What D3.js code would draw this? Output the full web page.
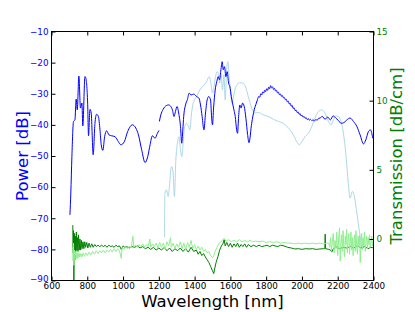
<!DOCTYPE html>
<html>
<head>
<meta charset="utf-8">
<script src="https://cdn.jsdelivr.net/npm/d3@7"></script>
<style>
  body { margin: 0; background: #fff; }
  svg { display: block; font-family: "DejaVu Sans", sans-serif; }
  .tick line { stroke: #000; }
</style>
</head>
<body>
<svg id="chart" width="415" height="312"></svg>
<script>
'use strict';

// Power spectrum (left axis), blue; null marks the break near 1200 nm
const blueWl = [703, 708, 714, 723, 731, 738, 744, 753, 762, 770, 775, 787, 792, 802, 807, 815, 822, 833, 843, 852,
  862, 871, 878, 887, 897, 908, 921, 936, 955, 974, 988, 1007, 1026, 1052, 1071, 1086, 1104, 1123, 1138, 1151,
  1164, 1179, 1192, 1201, 1202,
  1203, 1211, 1224, 1242, 1255, 1267, 1276, 1285, 1293, 1302, 1311, 1321, 1328, 1334, 1339, 1349, 1360, 1369, 1380,
  1395, 1411, 1424, 1433, 1442, 1452, 1461, 1470, 1479, 1489, 1496, 1500, 1506, 1515, 1524, 1532, 1539, 1547, 1554,
  1560, 1567, 1575, 1582, 1590, 1597, 1605, 1612, 1620, 1627, 1635, 1640, 1646, 1653, 1660, 1668, 1677, 1687, 1696,
  1704, 1719, 1733, 1745,
  1752, 1758, 1764, 1770, 1775, 1781, 1786, 1792, 1797, 1803, 1808, 1814, 1819, 1825, 1830, 1836, 1841, 1847, 1852,
  1858, 1863, 1869, 1874, 1880, 1885, 1891, 1896, 1902, 1907, 1913, 1918, 1924, 1929, 1935, 1940, 1946, 1951, 1957,
  1962, 1968, 1973, 1979, 1984, 1990, 1995, 2001, 2006, 2012, 2018, 2024, 2030, 2036, 2042, 2048, 2055, 2062, 2070,
  2078, 2085, 2093, 2101,
  2114, 2129, 2144, 2159, 2174, 2189, 2204, 2219, 2234, 2251, 2269, 2288, 2307, 2325, 2344, 2357, 2372, 2383, 2396];
const bluePow = [-68.9, -61.9, -50.2, -38.9, -38.4, -31.7, -35.2, -24.3, -34.6, -33.0, -40.3, -24.5, -25.0, -33.0,
  -43.5, -35.0, -36.2, -49.6, -39.5, -36.6, -37.3, -41.6, -46.4, -48.2, -43.8, -41.9, -43.2, -43.5, -43.8, -45.4,
  -46.4, -45.4, -42.1, -40.0, -41.0, -43.2, -48.0, -52.1, -50.2, -46.4, -43.5, -44.3, -42.7, -41.8, null,
  -38.9, -36.8, -35.0, -33.8, -33.6, -34.1, -35.2, -37.3, -35.7, -34.1, -36.2, -40.5, -45.9, -41.6, -37.3, -33.6,
  -31.8, -29.8, -30.4, -30.1, -30.9, -31.4, -33.6, -37.3, -41.6, -36.2, -32.0, -30.9, -32.0, -38.4, -40.0, -34.6,
  -28.8, -26.1, -24.5, -25.5, -22.3, -19.7, -22.3, -21.3, -24.5, -22.9, -26.6, -27.7, -30.9, -33.0, -35.2, -37.3,
  -41.6, -42.7, -37.3, -33.6, -34.6, -33.0, -34.0, -38.0, -43.0, -45.7, -39.5, -35.2, -33.0,
  -31.8, -30.9, -31.1, -30.0, -30.4, -29.4, -29.8, -28.9, -29.3, -28.4, -28.9, -27.9, -28.4, -27.4, -28.1, -27.8,
  -28.6, -28.3, -29.1, -28.9, -29.7, -29.5, -30.3, -30.1, -30.8, -30.6, -31.3, -31.2, -31.9, -31.8, -32.6, -32.4,
  -33.3, -33.1, -34.0, -33.8, -34.7, -34.6, -35.4, -35.3, -36.0, -35.9, -36.6, -36.4, -37.1, -36.9, -37.5, -37.3,
  -37.9, -37.7, -38.3, -38.0, -38.5, -38.2, -38.6, -38.4, -38.7, -38.3, -38.5, -37.9, -37.8,
  -37.3, -38.2, -37.5, -38.4, -37.1, -37.8, -38.6, -39.5, -39.3, -38.4, -37.8, -38.9, -40.5, -43.2, -46.1, -44.8,
  -42.1, -41.6, -44.3];

// Second power spectrum (left axis), light blue
const lightWl = [1232, 1234, 1243, 1252, 1261, 1267, 1272, 1280, 1287, 1295, 1304, 1313, 1321, 1328, 1336, 1343,
  1355, 1366, 1373, 1383, 1392, 1411, 1429, 1448, 1467, 1481, 1491, 1500, 1508, 1517, 1526, 1534, 1541, 1548, 1556,
  1564, 1571, 1579, 1586, 1594, 1601, 1608, 1616, 1625, 1638, 1653, 1672, 1685, 1700, 1719, 1737, 1756, 1784, 1812,
  1840, 1868, 1896, 1924, 1952, 1971, 1985, 1999, 2017, 2036, 2055, 2073, 2092, 2111, 2129, 2148, 2163, 2176, 2189,
  2204, 2219, 2232, 2245, 2256, 2269, 2282, 2293, 2307, 2320, 2331, 2337];
const lightPow = [-76.0, -62.0, -60.9, -63.0, -58.7, -54.4, -53.4, -55.5, -63.0, -51.4, -45.9, -43.8, -48.0, -50.2,
  -45.9, -41.0, -39.5, -40.5, -41.6, -36.2, -33.0, -30.9, -28.8, -27.5, -26.1, -24.5, -26.6, -29.8, -27.7, -24.5,
  -22.9, -23.9, -26.6, -23.4, -28.8, -23.9, -32.0, -22.3, -19.7, -25.5, -28.8, -33.0, -31.4, -28.8, -27.1, -26.4,
  -26.6, -27.8, -30.9, -34.6, -36.2, -36.0, -36.8, -37.3, -38.2, -38.9, -39.5, -41.0, -43.2, -45.4, -46.4, -45.4,
  -43.8, -42.7, -40.5, -37.8, -35.7, -35.2, -36.2, -38.9, -40.0, -38.4, -37.1, -37.3, -38.9, -42.7, -49.1, -56.6,
  -63.5, -61.4, -63.0, -68.3, -73.7, -78.0, -80.0];

// Transmission (right axis), dark green
const darkWl = [719, 721, 723, 725, 727, 729, 731, 733, 736, 739, 742, 745, 748, 751, 755, 759, 763, 767, 771, 776,
  781, 786, 791, 797, 803, 810, 817, 825, 833, 842, 850, 860, 870, 880, 890, 900, 910, 920, 930, 940, 950, 960, 970,
  980, 990, 1000, 1010, 1020, 1035, 1050, 1065, 1080, 1095, 1110, 1125, 1140, 1155, 1170, 1185, 1200, 1215, 1230,
  1245, 1260, 1275, 1290, 1305, 1320, 1335, 1350, 1365, 1380, 1395, 1410, 1420, 1430, 1440, 1450, 1460, 1470, 1480,
  1490, 1500, 1507, 1513, 1520, 1531, 1540, 1550, 1560, 1565, 1571, 1580, 1590, 1600, 1610, 1620, 1630, 1640, 1650,
  1660, 1670, 1680, 1690, 1700, 1715, 1730, 1745, 1760, 1775, 1790, 1805, 1820, 1835, 1850, 1865, 1880, 1900, 1920,
  1940, 1960, 1980, 2000, 2020, 2040, 2060, 2080, 2100, 2120, 2128, 2130, 2132, 2150, 2160, 2167, 2175, 2190, 2210,
  2230, 2250, 2270, 2290, 2310, 2330, 2350, 2370, 2385, 2400];
const darkT = [1.0, -1.0, 0.6, -3.0, -0.3, 0.4, -1.5, 0.2, -0.9, 0.5, -0.8, 0.1, -0.9, 0.3, -0.8, 0.0, -0.8, -0.1,
  -0.7, -0.2, -0.7, -0.2, -0.6, -0.25, -0.65, -0.3, -0.6, -0.35, -0.6, -0.4, -0.55, -0.45, -0.55, -0.45, -0.55,
  -0.45, -0.6, -0.45, -0.55, -0.5, -0.6, -0.45, -0.55, -0.5, -0.75, -0.5, -0.6, -0.55, -0.65, -0.55, -0.6, -0.5,
  -0.65, -0.55, -0.7, -0.6, -0.75, -0.6, -0.8, -0.65, -0.8, -0.6, -0.85, -0.65, -0.9, -0.7, -0.85, -0.65, -0.9,
  -0.7, -0.95, -0.6, -0.9, -0.8, -1.1, -0.9, -1.2, -1.05, -1.3, -1.5, -1.7, -2.0, -2.3, -2.5, -2.1, -1.7, -1.25,
  -0.8, -0.5, -0.3, -0.05, -0.5, -0.25, -0.55, -0.3, -0.6, -0.35, -0.55, -0.3, -0.6, -0.4, -0.55, -0.35, -0.6,
  -0.4, -0.55, -0.45, -0.55, -0.45, -0.55, -0.5, -0.45, -0.55, -0.45, -0.5, -0.55, -0.45, -0.5, -0.6, -0.65, -0.72,
  -0.7, -0.75, -0.7, -0.72, -0.7, -0.75, -0.72, -0.7, -0.7, 0.35, -0.7, -0.75, -0.8, -0.95, -0.7, -0.55, -0.7, -0.6,
  -0.65, -0.55, -0.65, -0.5, -0.65, -0.55, -0.7, -0.6, -0.65];

// Transmission (right axis), light green
const paleWl = [719, 721, 723, 725, 728, 731, 735, 739, 743, 748, 753, 758, 764, 770, 777, 784, 792, 800, 810, 820,
  830, 840, 850, 860, 870, 880, 890, 900, 910, 920, 930, 940, 950, 960, 970, 980, 990, 995, 1005, 1015, 1025, 1035,
  1045, 1055, 1060, 1070, 1080, 1090, 1100, 1110, 1120, 1130, 1140, 1150, 1155, 1165, 1175, 1185, 1195, 1205, 1215,
  1225, 1235, 1245, 1255, 1265, 1270, 1280, 1290, 1300, 1310, 1320, 1330, 1340, 1350, 1360, 1370, 1380, 1390, 1400,
  1410, 1420, 1430, 1440, 1450, 1460, 1470, 1480, 1490, 1500, 1507, 1515, 1525, 1535, 1545, 1555, 1565, 1575, 1590,
  1605, 1620, 1635, 1650, 1665, 1680, 1695, 1710, 1725, 1740, 1760, 1780, 1800, 1820, 1840, 1860, 1880, 1900, 1920,
  1940, 1960, 1980, 2000, 2020, 2040, 2060, 2080, 2100, 2120, 2140,
  2150, 2155, 2160, 2165, 2170, 2175, 2180, 2185, 2190, 2195, 2200, 2205, 2210, 2214, 2218, 2222, 2226, 2230, 2234,
  2238, 2242, 2246, 2250, 2254, 2258, 2262, 2266, 2270, 2274, 2278, 2282, 2286, 2290, 2294, 2298, 2302, 2306, 2310,
  2314, 2318, 2322, 2326, 2330, 2334, 2338, 2342, 2346, 2350, 2354, 2358, 2362, 2366, 2370, 2374, 2378, 2382, 2386,
  2390, 2395, 2400];
const paleT = [-0.6, -1.6, -0.3, -1.9, -0.8, -1.5, -0.9, -1.4, -1.0, -1.4, -1.0, -1.3, -1.05, -1.3, -1.0, -1.25,
  -1.0, -1.2, -0.95, -1.15, -0.9, -1.1, -0.85, -1.05, -0.85, -1.0, -0.8, -1.0, -0.8, -0.95, -0.75, -0.95, -0.7,
  -0.9, -0.7, -0.85, -1.4, -0.6, -0.75, -0.55, -0.7, -0.5, -0.65, 0.2, -0.55, -0.45, -0.6, -0.4, -0.55, -0.35, -0.6,
  -0.4, -0.55, 0.0, -0.6, -0.35, -0.55, -0.3, -0.65, -0.25, -0.6, -0.3, -0.75, -0.2, -0.5, 0.1, -0.6, -0.3, -0.7,
  -0.35, -0.6, -0.2, -0.7, -0.3, -0.8, -0.25, -0.6, -0.1, -0.7, -0.4, -0.75, -0.5, -0.8, -0.6, -0.9, -0.75, -1.0,
  -0.9, -1.2, -1.35, -1.2, -0.9, -0.6, -0.35, -0.2, -0.1, 0.05, -0.15, -0.05, -0.2, -0.1, -0.2, -0.05, -0.2, -0.1,
  -0.2, -0.1, -0.2, -0.15, -0.2, -0.15, -0.25, -0.2, -0.25, -0.2, -0.3, -0.25, -0.3, -0.3, -0.35, -0.3, -0.35, -0.3,
  -0.35, -0.3, -0.35, -0.3, -0.35, -0.3,
  -0.3, -0.6, 0.1, -0.9, -0.2, 0.4, -1.0, -0.1, -0.7, 0.5, -1.2, 0.0, 0.8, -1.6, -0.3, 0.3, -0.9, 0.6, -0.6, -1.3,
  0.2, -0.4, 0.7, -1.0, -0.2, 0.4, -1.1, -0.3, 0.5, -0.8, 0.1, -1.2, -0.4, 0.3, -0.9, 0.6, -0.5, -1.1, 0.2, -0.6,
  0.3, -1.7, -0.2, 0.4, -0.8, 0.1, -0.5, 0.5, -0.9, -0.2, 0.2, -0.7, 0.1, -0.4, 0.3, -0.6, -0.2, 0.2, -0.5, -0.3];

const xTicks = [600, 800, 1000, 1200, 1400, 1600, 1800, 2000, 2200, 2400];
const powerTicks = [-90, -80, -70, -60, -50, -40, -30, -20, -10];
const transTicks = [0, 5, 10, 15];

const BLUE = '#0000ff';
const GREEN = '#008000';

const width = 415;
const height = 312;
const margin = { top: 31.5, right: 41.5, bottom: 31.5, left: 51.5 };
const innerW = width - margin.left - margin.right;
const innerH = height - margin.top - margin.bottom;

const svg = d3.select('#chart');

const x = d3.scaleLinear().domain([600, 2400]).range([0, innerW]);
const yPow = d3.scaleLinear().domain([-90, -10]).range([innerH, 0]);
const yTrans = d3.scaleLinear().domain([-3, 15]).range([innerH, 0]);

svg.append('defs')
  .append('clipPath')
    .attr('id', 'plot-clip')
  .append('rect')
    .attr('width', innerW)
    .attr('height', innerH);

const g = svg.append('g')
  .attr('transform', `translate(${margin.left},${margin.top})`);

const plot = g.append('g').attr('clip-path', 'url(#plot-clip)');

const zip = (xs, ys) => xs.map((v, i) => [v, ys[i]]);

const addLine = (pts, yScale, color, curve) => {
  const line = d3.line()
    .defined(d => d[1] !== null)
    .x(d => x(d[0]))
    .y(d => yScale(d[1]))
    .curve(curve);
  plot.append('path')
    .datum(pts)
    .attr('d', line)
    .attr('fill', 'none')
    .attr('stroke', color)
    .attr('stroke-width', 1)
    .attr('stroke-linejoin', 'round');
};

addLine(zip(lightWl, lightPow), yPow, '#add8e6', d3.curveMonotoneX);
addLine(zip(blueWl, bluePow), yPow, BLUE, d3.curveMonotoneX);
addLine(zip(darkWl, darkT), yTrans, GREEN, d3.curveLinear);
addLine(zip(paleWl, paleT), yTrans, '#90ee90', d3.curveLinear);

// Axes: matplotlib-style inward ticks
const styleAxis = (sel, color) => {
  sel.select('.domain').remove();
  sel.selectAll('text')
    .attr('fill', color)
    .style('font-size', '8.8px')
    .style('font-family', '"DejaVu Sans", sans-serif');
};

g.append('g')
  .attr('transform', `translate(0,${innerH})`)
  .call(d3.axisBottom(x).tickValues(xTicks).tickSize(-4).tickPadding(2.5).tickFormat(d3.format('d')))
  .call(sel => styleAxis(sel, '#000'));

g.append('g')
  .call(d3.axisTop(x).tickValues(xTicks).tickSize(-4).tickFormat(''))
  .call(sel => styleAxis(sel, '#000'));

g.append('g')
  .call(d3.axisLeft(yPow).tickValues(powerTicks).tickSize(-4).tickPadding(3))
  .call(sel => styleAxis(sel, BLUE))
  .call(sel => sel.selectAll('.tick text')
    .filter(d => d === -90)
    .attr('dy', '0.1em'));

g.append('g')
  .attr('transform', `translate(${innerW},0)`)
  .call(d3.axisRight(yTrans).tickValues(transTicks).tickSize(-4).tickPadding(3))
  .call(sel => styleAxis(sel, GREEN));

g.append('rect')
  .attr('width', innerW)
  .attr('height', innerH)
  .attr('fill', 'none')
  .attr('stroke', '#000')
  .attr('stroke-width', 1);

// Axis titles
svg.append('text')
  .attr('x', margin.left + innerW / 2)
  .attr('y', 306.5)
  .attr('text-anchor', 'middle')
  .style('font-size', '16.5px')
  .text('Wavelength [nm]');

svg.append('text')
  .attr('transform', `translate(28,${margin.top + innerH / 2}) rotate(-90)`)
  .attr('text-anchor', 'middle')
  .attr('fill', BLUE)
  .style('font-size', '16.5px')
  .text('Power [dB]');

svg.append('text')
  .attr('transform', `translate(402,${margin.top + innerH / 2}) rotate(-90)`)
  .attr('text-anchor', 'middle')
  .attr('fill', GREEN)
  .style('font-size', '16.5px')
  .text('Transmission [dB/cm]');
</script>
</body>
</html>
